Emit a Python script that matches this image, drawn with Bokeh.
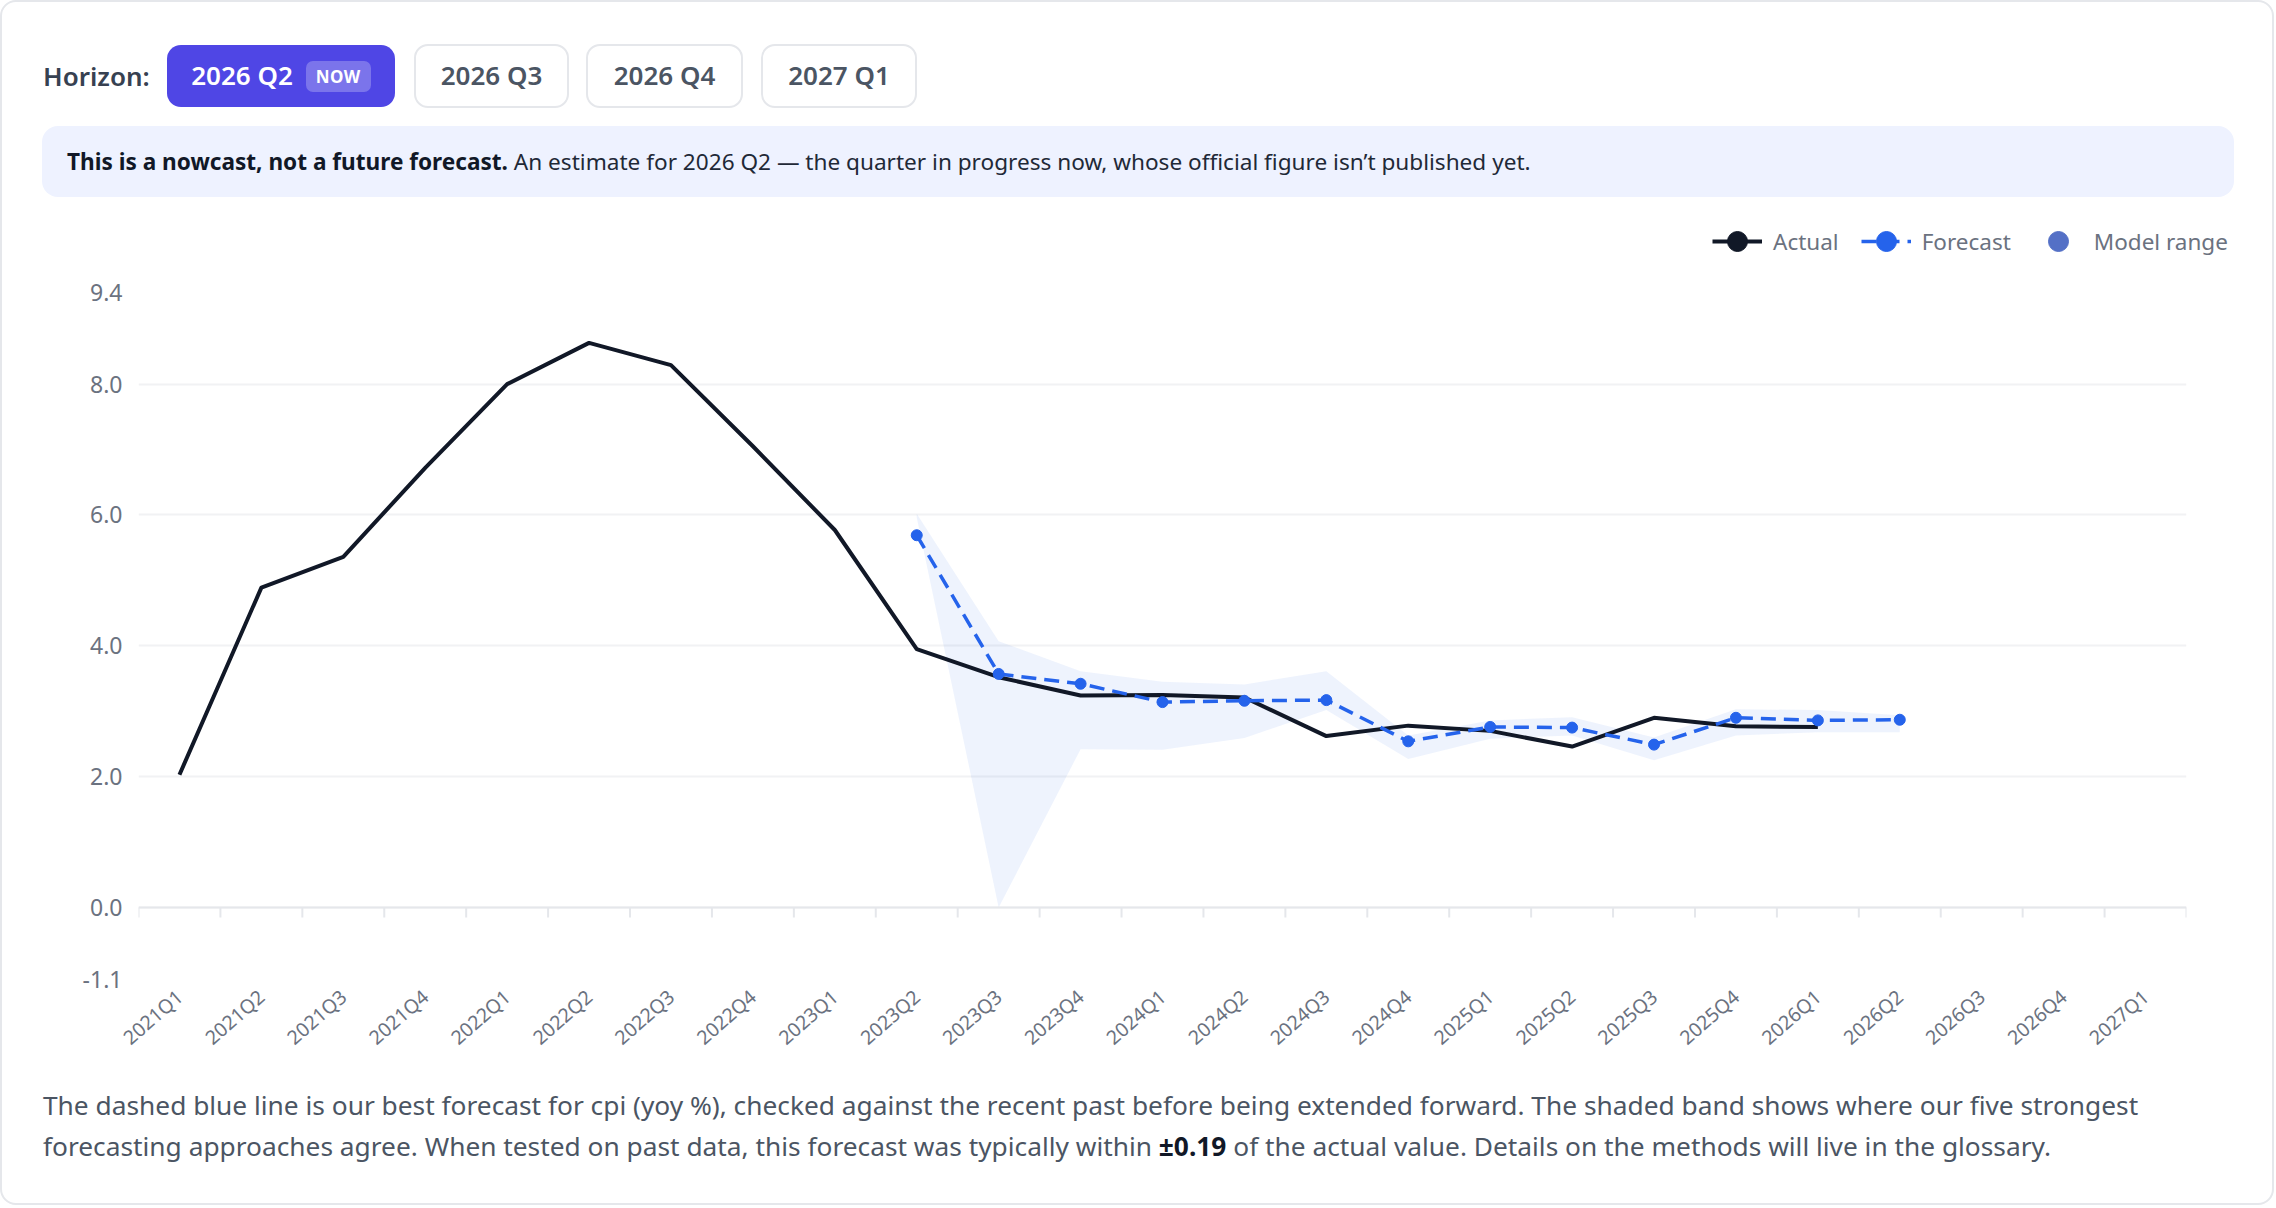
import math
from bokeh.plotting import figure
from bokeh.models import (FactorRange, Range1d, FixedTicker, PrintfTickFormatter, Span,
                          Legend, LegendItem, Div)
from bokeh.layouts import column
from bokeh.embed import file_html
from bokeh.resources import INLINE

# ---------------- data ----------------
quarters = ["2021Q1", "2021Q2", "2021Q3", "2021Q4", "2022Q1", "2022Q2", "2022Q3", "2022Q4",
            "2023Q1", "2023Q2", "2023Q3", "2023Q4", "2024Q1", "2024Q2", "2024Q3", "2024Q4",
            "2025Q1", "2025Q2", "2025Q3", "2025Q4", "2026Q1", "2026Q2", "2026Q3", "2026Q4",
            "2027Q1"]
actual_quarters = quarters[0:21]
actual = [2.03, 4.89, 5.36, 6.72, 8.00, 8.63, 8.29, 7.05, 5.77, 3.95, 3.52, 3.24, 3.25,
          3.21, 2.62, 2.78, 2.70, 2.46, 2.90, 2.77, 2.76]
forecast_quarters = quarters[9:22]
forecast = [5.69, 3.57, 3.42, 3.14, 3.16, 3.17, 2.54, 2.76, 2.75, 2.49, 2.90, 2.86, 2.87]
band_upper = [6.02, 4.07, 3.61, 3.45, 3.41, 3.61, 2.63, 2.86, 2.91, 2.60, 3.03, 3.02, 2.94]
band_lower = [5.96, 0.00, 2.42, 2.41, 2.59, 3.02, 2.27, 2.58, 2.63, 2.25, 2.63, 2.68, 2.68]
y_ticks = [-1.1, 0.0, 2.0, 4.0, 6.0, 8.0, 9.4]
horizons = ["2026 Q2", "2026 Q3", "2026 Q4", "2027 Q1"]
active_horizon = "2026 Q2"
typical_error = "±0.19"
legend_labels = ["Actual", "Forecast", "Model range"]

FONT = "Noto Sans"
TXT_GRAY = "#6b7280"
C_ACTUAL = "#111827"
C_FC = "#2563eb"
C_RANGE = "#5470c6"
FC_DASH = "15 8"

FW = 2270

# ---------------- legend strip (own small figure; its series sit outside its y range) ----------------
LH = 68
lf = figure(width=FW, height=LH, x_range=FactorRange(*quarters), y_range=Range1d(100, 101),
            x_axis_type=None, y_axis_type=None, output_backend="svg", toolbar_location=None,
            min_border=0, frame_align=False)
lf.outline_line_color = None
lf.background_fill_color = "white"
lf.border_fill_color = "white"
lf.xgrid.grid_line_color = None
lf.ygrid.grid_line_color = None
la_line = lf.line(actual_quarters, actual, line_color=C_ACTUAL, line_width=4)
la_dot = lf.scatter(actual_quarters, actual, size=10, color=C_ACTUAL)
lfc_line = lf.line(forecast_quarters, forecast, line_color=C_FC, line_width=3.5, line_dash=FC_DASH)
lfc_dot = lf.scatter(forecast_quarters, forecast, size=10, color=C_FC)
lr_dot = lf.scatter(forecast_quarters, band_upper, size=10, color=C_RANGE)
legend = Legend(items=[LegendItem(label=legend_labels[0], renderers=[la_line, la_dot]),
                       LegendItem(label=legend_labels[1], renderers=[lfc_line, lfc_dot]),
                       LegendItem(label=legend_labels[2], renderers=[lr_dot])],
                orientation="horizontal", location=(1710, 7),
                glyph_width=50, glyph_height=56, label_standoff=11, spacing=22,
                padding=0, margin=0, background_fill_alpha=0, border_line_alpha=0,
                label_text_font=FONT, label_text_font_size="22.5px",
                label_text_color=TXT_GRAY)
lf.add_layout(legend)

# ---------------- chart ----------------
FH = 795
MB_L, MB_R, MB_T, MB_B = 136, 86, 16, 92
y_min, y_max = y_ticks[0], y_ticks[-1]
frame_h = FH - MB_T - MB_B

p = figure(width=FW, height=FH, x_range=FactorRange(*quarters), y_range=Range1d(y_min, y_max),
           output_backend="svg", toolbar_location=None,
           min_border_left=MB_L, min_border_right=MB_R, min_border_top=MB_T,
           min_border_bottom=MB_B, frame_align=False)
p.outline_line_color = None
p.background_fill_color = "white"
p.border_fill_color = "white"

ticker = FixedTicker(ticks=y_ticks)
p.yaxis.ticker = ticker
p.ygrid.ticker = ticker
p.yaxis.formatter = PrintfTickFormatter(format="%.1f")
p.xgrid.grid_line_color = None
p.ygrid.grid_line_color = "#f1f2f4"
p.ygrid.grid_line_width = 2

for ax in (p.xaxis, p.yaxis):
    ax.axis_line_color = None
    ax.major_tick_line_color = None
    ax.minor_tick_line_color = None
    ax.major_tick_out = 0
    ax.major_tick_in = 0
    ax.major_label_text_font = FONT
    ax.major_label_text_color = TXT_GRAY

p.yaxis.major_label_text_font_size = "23px"
p.yaxis.major_label_standoff = 16
p.xaxis.major_label_text_font_size = "19.5px"
p.xaxis.major_label_orientation = math.radians(41)
p.xaxis.major_label_standoff = 14

# axis line at zero with ticks on category boundaries
p.add_layout(Span(location=0, dimension="width", line_color="#e5e7eb", line_width=2))
tick_x = [(q, -0.5) for q in quarters] + [(quarters[-1], 0.5)]
tick_len = 10 * (y_max - y_min) / frame_h
p.segment(x0=tick_x, y0=[0] * len(tick_x), x1=tick_x, y1=[-tick_len] * len(tick_x),
          line_color="#e5e7eb", line_width=2)

# model range band
p.varea(x=forecast_quarters, y1=band_lower, y2=band_upper, fill_color=C_FC, fill_alpha=0.08)

# actual
p.line(actual_quarters, actual, line_color=C_ACTUAL, line_width=4, line_join="round")

# forecast
p.line(forecast_quarters, forecast, line_color=C_FC, line_width=3.5, line_dash=FC_DASH)
p.scatter(forecast_quarters, forecast, size=11, color=C_FC)

# ---------------- header ----------------
btn_lefts = [165, 412, 584, 759]
btn_widths = [228, 155, 157, 156]
parts = ['<div style="position:relative;width:%dpx;height:206px;font-family:\'Noto Sans\',sans-serif;">' % FW,
         '<div style="position:absolute;left:41px;top:43px;height:62px;line-height:62px;'
         'font-size:26px;font-weight:600;color:#374151;">Horizon:</div>']
for h, left, w in zip(horizons, btn_lefts, btn_widths):
    if h == active_horizon:
        parts.append(
            '<div style="position:absolute;left:%dpx;top:43px;width:%dpx;height:62px;box-sizing:border-box;'
            'border-radius:14px;background:#4f46e5;color:#ffffff;font-size:26px;font-weight:600;'
            'display:flex;align-items:center;justify-content:center;">%s'
            '<span style="margin-left:13px;background:rgba(255,255,255,0.25);border-radius:7px;'
            'font-size:17px;font-weight:700;padding:0 10px;height:31px;line-height:31px;'
            'letter-spacing:0.5px;">NOW</span></div>' % (left, w, h))
    else:
        parts.append(
            '<div style="position:absolute;left:%dpx;top:42px;width:%dpx;height:64px;box-sizing:border-box;'
            'border-radius:14px;background:#ffffff;border:2px solid #e5e7eb;color:#4b5563;font-size:26px;'
            'font-weight:600;display:flex;align-items:center;justify-content:center;">%s</div>'
            % (left, w, h))
parts.append(
    '<div style="position:absolute;left:40px;top:124px;width:2192px;height:71px;box-sizing:border-box;'
    'border-radius:16px;background:#eef2ff;font-size:22.6px;line-height:71px;padding-left:25px;'
    'color:#1f2937;white-space:nowrap;"><b style="color:#111827;">This is a nowcast, not a future forecast.</b>'
    ' An estimate for 2026 Q2 \u2014 the quarter in progress now, whose official figure isn\u2019t published yet.</div>')
parts.append('</div>')
header = Div(text="".join(parts), width=FW, height=206, margin=0)

# ---------------- footer ----------------
footer_html = (
    '<div style="position:relative;width:%dpx;height:132px;font-family:\'Noto Sans\',sans-serif;">'
    '<div style="position:absolute;left:41px;top:14px;font-size:26.3px;line-height:41px;color:#4b5563;'
    'white-space:nowrap;">The dashed blue line is our best forecast for cpi (yoy %%), checked against the '
    'recent past before being extended forward. The shaded band shows where our five strongest<br>'
    'forecasting approaches agree. When tested on past data, this forecast was typically within '
    '<b style="color:#111827;">%s</b> of the actual value. Details on the methods will live in the glossary.'
    '</div></div>' % (FW, typical_error))
footer = Div(text=footer_html, width=FW, height=132, margin=0)

root = column(header, lf, p, footer,
              styles={"border": "2px solid #e5e7eb", "border-radius": "16px",
                      "background-color": "#ffffff"})

open("out.html", "w").write(file_html(root, INLINE))
